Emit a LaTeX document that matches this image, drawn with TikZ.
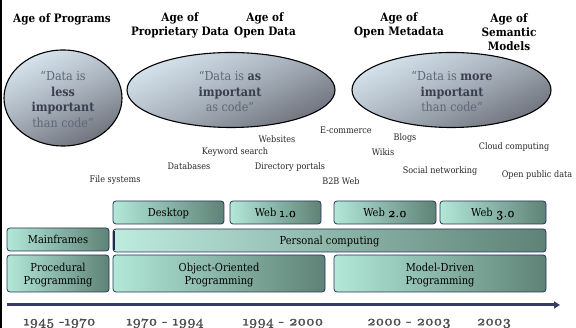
\documentclass[tikz,border=0pt]{standalone}
\usepackage{fontspec}
\setmainfont{DejaVu Serif}[FakeStretch=0.9]
\newfontfamily\lmold{Latin Modern Roman}[Numbers=OldStyle,FakeBold=0.3,FakeStretch=1.05]
\newfontfamily\lmoldb{Latin Modern Roman}[Numbers=OldStyle,FakeBold=2.6,FakeStretch=1.15]
\newcommand{\od}[1]{{\lmold\fontsize{13}{13}\selectfont #1}}
\newcommand{\odb}[1]{{\lmoldb #1}}
\usetikzlibrary{arrows.meta,shapes.geometric}
\definecolor{boxline}{HTML}{28335A}
\definecolor{boxl}{HTML}{B2E8D8}
\definecolor{boxr}{HTML}{5E8276}
\definecolor{axisc}{HTML}{363C6A}
\definecolor{bubl}{HTML}{5F6678}
\definecolor{bubd}{HTML}{3A3E50}
\definecolor{datec}{HTML}{4E4E4E}
\definecolor{bubtop}{HTML}{D6E4EE}
\definecolor{bubbot}{HTML}{6E727C}
\tikzset{
  x=1pt,y=-1pt,
  age/.style={font=\fontsize{11.6}{14}\selectfont\bfseries,align=center,text=black,inner sep=0},
  bubble/.style={ellipse,draw=black,line width=1.1pt,shading=axis,top color=bubtop,bottom color=bubbot,middle color=bubtop!55!bubbot,shading angle=25,inner sep=0},
  btext/.style={font=\fontsize{12.4}{15.5}\selectfont,align=center,text=bubl,inner sep=0},
  tag/.style={font=\fontsize{9}{10}\selectfont,text=black!85,inner sep=0},
  techbox/.style={rectangle,rounded corners=3pt,draw=boxline,line width=.8pt,left color=boxl,right color=boxr,inner sep=0,font=\fontsize{11}{13}\selectfont,align=center,text=black},
  oneline/.style={text height=9pt,text depth=0pt},
  boxtext/.style={font=\fontsize{11}{13}\selectfont,align=center,text=black,inner sep=0},
  datelab/.style={font=\fontsize{13.5}{14}\selectfont,text=datec,inner sep=0},
}
\newcommand{\bb}[1]{\textbf{\textcolor{bubd}{#1}}}
\begin{document}
\begin{tikzpicture}
\useasboundingbox (0,0) rectangle (576,328);
\fill[black] (0,0) rectangle (2,328);
\node[age] (a1) at (62,19) {Age of Programs};
\node[age] (a2) at (180,25) {Age of\\Proprietary Data};
\node[age] (a3) at (265,25) {Age of\\Open Data};
\node[age] (a4) at (399,25) {Age of\\Open Metadata};
\node[age] (a5) at (509,32) {Age of\\Semantic\\Models};
\node[bubble,minimum width=118pt,minimum height=96pt] (b1) at (63,98) {};
\node[bubble,minimum width=208pt,minimum height=75pt] (b2) at (231,90) {};
\node[bubble,minimum width=199pt,minimum height=75pt] (b3) at (451.5,90) {};
\node[btext] (t1) at (63,99.5) {“Data is\\\bb{less}\\\bb{important}\\than code”};
\node[btext] (t2) at (230,91.5) {“Data is \bb{as}\\\bb{important}\\as code”};
\node[btext] (t3) at (452,91.5) {“Data is \bb{more}\\\bb{important}\\than code”};
\node[tag] (n1) at (277,139) {Websites};
\node[tag] (n2) at (235,152) {Keyword search};
\node[tag] (n3) at (189,166) {Databases};
\node[tag] (n4) at (290,167) {Directory portals};
\node[tag] (n5) at (115,180) {File systems};
\node[tag] (n6) at (346,130) {E-commerce};
\node[tag] (n7) at (405,138) {Blogs};
\node[tag] (n8) at (383,152) {Wikis};
\node[tag] (n9) at (514,147) {Cloud computing};
\node[tag] (n10) at (440,171) {Social networking};
\node[tag] (n11) at (537,175) {Open public data};
\node[tag] (n12) at (341,181) {B2B Web};
\node[techbox,oneline,minimum width=111pt,minimum height=23pt] (c1) at (168.5,212.5) {Desktop};
\node[techbox,oneline,minimum width=91pt,minimum height=23pt] (c2) at (275.5,212.5) {Web \od{1.0}};
\node[techbox,oneline,minimum width=102pt,minimum height=23pt] (c3) at (385,212.5) {Web \od{2.0}};
\node[techbox,oneline,minimum width=106pt,minimum height=23pt] (c4) at (493,212.5) {Web \od{3.0}};
\node[techbox,oneline,minimum width=102pt,minimum height=23pt] (d1) at (58,239.5) {Mainframes};
\node[techbox,oneline,minimum width=433pt,minimum height=23pt,left color=boxl!85!white,right color=boxr] (d2) at (329.5,240.5) {Personal computing};
\fill[boxline!80!black] ([xshift=.3pt,yshift=-2.5pt]d2.north west) rectangle ([xshift=2.2pt,yshift=2.5pt]d2.south west);
\node[techbox,minimum width=102pt,minimum height=37pt] (e1) at (58,273.5) {};
\node[techbox,minimum width=212pt,minimum height=37pt] (e2) at (219,273.5) {};
\node[techbox,minimum width=212pt,minimum height=37pt] (e3) at (440,273.5) {};
\node[boxtext] (e1t) at ([yshift=-1.5pt]e1.center) {Procedural\\Programming};
\node[boxtext] (e2t) at ([yshift=-1.5pt]e2.center) {Object-Oriented\\Programming};
\node[boxtext] (e3t) at ([yshift=-1.5pt]e3.center) {Model-Driven\\Programming};
\coordinate (s) at (7,305);
\coordinate (t) at (560,305);
\draw[axisc,line width=3pt,-{Triangle[length=6pt,width=7pt]}] (s) -- (t);
\node[datelab] (y1) at (59.5,323.5) {\odb{1945 -1970}};
\node[datelab] (y2) at (165,323.5) {\odb{1970 - 1994}};
\node[datelab] (y3) at (283,323.5) {\odb{1994 - 2000}};
\node[datelab] (y4) at (409,323.5) {\odb{2000 - 2003}};
\node[datelab] (y5) at (494,323.5) {\odb{2003}};
\end{tikzpicture}
\end{document}
